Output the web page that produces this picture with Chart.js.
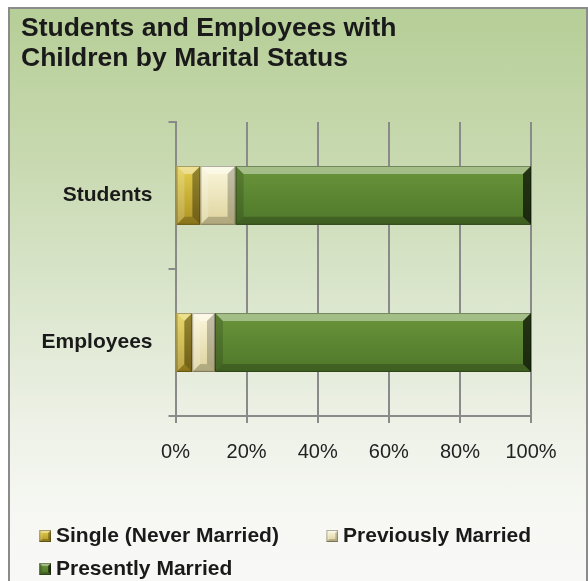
<!DOCTYPE html>
<html>
<head>
<meta charset="utf-8">
<script src="https://cdn.jsdelivr.net/npm/chart.js@4.4.1/dist/chart.umd.min.js"></script>
<style>
  html, body { margin: 0; padding: 0; overflow: hidden; background: #fff; }
  #frame {
    position: absolute; left: 8px; top: 7px; width: 580px; height: 620px;
    box-sizing: border-box; border: 2px solid #8b8b8b;
    background: linear-gradient(to bottom, #b6ce97 0px, #c8d9b0 150px, #dbe6cd 290px, #edf1e6 413px, #f7f8f4 513px, #f9f9f8 620px);
  }
  #wrap { position: absolute; left: 0; top: 0; width: 588px; height: 600px; }
</style>
</head>
<body>
<div id="frame"></div>
<div id="wrap"><canvas id="myChart" width="588" height="600"></canvas></div>
<script>
const categories = ["Students", "Employees"];
const seriesNames = ["Single (Never Married)", "Previously Married", "Presently Married"];
const singleValues = [7.0, 4.7];
const previousValues = [9.9, 6.4];
const presentValues = [83.1, 88.9];
const tickStep = 20;

const font = "'Liberation Sans', Arial, sans-serif";

// face colours + how light/dark the side bevels get
const looks = [
  { base: "#c9ae2f", top: "#e4cf4c", bottom: "#ad9222", left: 0.18, dark: 0.35 },
  { base: "#efe7ba", top: "#fbf7dc", bottom: "#ddd29c", left: 0.18, dark: 0.22 },
  { base: "#5a8230", top: "#6a953a", bottom: "#4f772a", left: -0.15, dark: 0.65 },
];

function paintBevel(ctx, l, t, r, b, look, d) {
  const g = ctx.createLinearGradient(0, t, 0, b);
  g.addColorStop(0, look.top);
  g.addColorStop(1, look.bottom);
  ctx.fillStyle = g;
  ctx.fillRect(l, t, r - l, b - t);
  const quad = (pts, color) => {
    ctx.beginPath();
    ctx.moveTo(pts[0][0], pts[0][1]);
    pts.slice(1).forEach((p) => ctx.lineTo(p[0], p[1]));
    ctx.closePath();
    ctx.fillStyle = color;
    ctx.fill();
  };
  const leftCol = look.left >= 0 ? "rgba(255,255,255," + look.left + ")" : "rgba(0,0,0," + -look.left + ")";
  quad([[l, t], [r, t], [r - d, t + d], [l + d, t + d]], "rgba(255,255,255,0.4)");
  quad([[l, t], [l + d, t + d], [l + d, b - d], [l, b]], leftCol);
  quad([[l, b], [l + d, b - d], [r - d, b - d], [r, b]], "rgba(0,0,0,0.2)");
  quad([[r, t], [r, b], [r - d, b - d], [r - d, t + d]], "rgba(0,0,0," + look.dark + ")");
  ctx.strokeStyle = "rgba(0,0,0,0.3)";
  ctx.lineWidth = 1;
  ctx.strokeRect(l + 0.5, t + 0.5, r - l - 1, b - t - 1);
}

// small bevelled boxes for the legend (box sits in the right half)
const legendBoxes = looks.map((look) => {
  const c = document.createElement("canvas");
  c.width = 24;
  c.height = 12;
  paintBevel(c.getContext("2d"), 12, 0, 24, 12, look, 3);
  return c;
});

const bevelBars = {
  id: "bevelBars",
  afterDatasetsDraw(chart) {
    const ctx = chart.ctx;
    chart.data.datasets.forEach((ds, i) => {
      const meta = chart.getDatasetMeta(i);
      meta.data.forEach((bar) => {
        const p = bar.getProps(["x", "y", "base", "height"], true);
        const l = Math.min(p.x, p.base);
        const r = Math.max(p.x, p.base);
        const t = p.y - p.height / 2;
        const b = p.y + p.height / 2;
        const d = Math.min(8, (r - l) / 2, p.height / 2);
        paintBevel(ctx, l, t, r, b, looks[i], d);
      });
    });
  },
};

const seriesValues = [singleValues, previousValues, presentValues];

new Chart(document.getElementById("myChart"), {
  type: "bar",
  data: {
    labels: categories,
    datasets: seriesNames.map((name, i) => ({
      label: name,
      data: seriesValues[i],
      backgroundColor: looks[i].base,
      borderWidth: 0,
      barPercentage: 0.8,
      categoryPercentage: 0.5,
    })),
  },
  options: {
    indexAxis: "y",
    responsive: false,
    animation: false,
    layout: { padding: { left: 21, right: 10, top: 0, bottom: 10.5 } },
    scales: {
      x: {
        stacked: true,
        min: 0,
        max: 100,
        ticks: {
          stepSize: tickStep,
          callback: (v) => v + "%",
          padding: 17,
          color: "#222",
          font: { family: font, size: 20 },
        },
        grid: { color: "#8a8a8a", lineWidth: 2, tickLength: 7 },
        border: { color: "#8a8a8a", width: 2 },
        afterFit(scale) {
          scale.height = 97.5;
          scale.paddingRight = 57;
        },
      },
      y: {
        stacked: true,
        ticks: {
          padding: 16,
          color: "#1a1a1a",
          font: { family: font, size: 21, weight: "bold" },
        },
        grid: { drawOnChartArea: false, color: "#8a8a8a", lineWidth: 2, tickLength: 7 },
        border: { color: "#8a8a8a", width: 2 },
        afterFit(scale) {
          scale.width = 154.5;
        },
      },
    },
    plugins: {
      tooltip: { enabled: false },
      title: {
        display: true,
        text: ["Students and Employees with", "Children by Marital Status"],
        align: "start",
        color: "#1a1a1a",
        font: { family: font, size: 26.5, weight: "bold", lineHeight: 1.13 },
        padding: { top: 14, bottom: 48 },
      },
      legend: {
        position: "bottom",
        align: "start",
        labels: {
          usePointStyle: true,
          boxWidth: 12.5,
          padding: 12,
          color: "#1a1a1a",
          font: { family: font, size: 21, weight: "bold" },
          generateLabels(chart) {
            const items = Chart.defaults.plugins.legend.labels.generateLabels(chart);
            items.forEach((it, i) => {
              it.pointStyle = legendBoxes[i];
              if (i === 0) it.text = it.text + "     ";
            });
            return items;
          },
        },
      },
    },
  },
  plugins: [bevelBars],
});
</script>
</body>
</html>
